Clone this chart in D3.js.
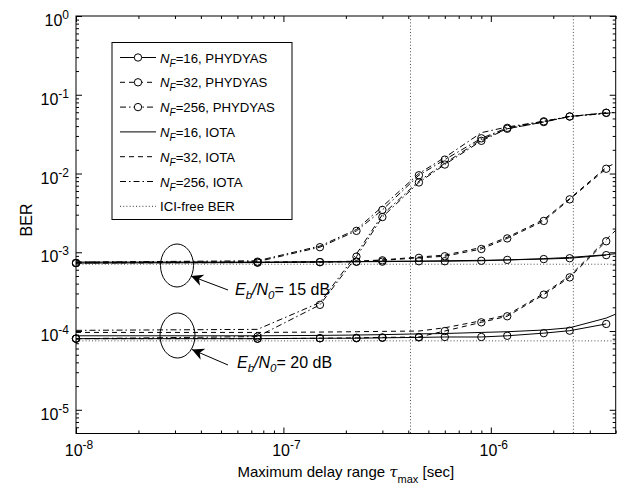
<!DOCTYPE html>
<html><head><meta charset="utf-8">
<script src="https://cdn.jsdelivr.net/npm/d3@7"></script>
<style>body{margin:0;background:#fff}svg{display:block;font-family:Arial,"Liberation Sans",sans-serif}</style>
</head><body><div id="chart"></div>
<script>
// delay values (sec)
const tau=[1e-8,7.5e-8,1.5e-7,2.25e-7,3e-7,4.5e-7,6e-7,9e-7,1.2e-6,1.8e-6,2.4e-6,3.6e-6];
const tauIota=[1e-8,7.5e-8,1.5e-7,2.25e-7,3e-7,4.5e-7,6e-7,9e-7,1.2e-6,1.8e-6,2.4e-6,3.6e-6,4e-6];
// Eb/N0 = 15 dB
const phy16_15=[7.3e-4,7.4e-4,7.5e-4,7.6e-4,7.6e-4,7.7e-4,7.7e-4,7.8e-4,8.0e-4,8.2e-4,8.4e-4,9.2e-4];
const phy32_15=[7.3e-4,7.4e-4,7.5e-4,7.6e-4,7.9e-4,8.5e-4,8.9e-4,1.1e-3,1.5e-3,2.5e-3,4.7e-3,1.15e-2];
const phy256_15=[7.3e-4,7.6e-4,1.16e-3,1.87e-3,3.45e-3,9.5e-3,1.5e-2,2.8e-2,3.8e-2,4.6e-2,5.3e-2,5.9e-2];
const iota16_15=[7.5e-4,7.5e-4,7.6e-4,7.6e-4,7.7e-4,7.7e-4,7.8e-4,7.9e-4,8.0e-4,8.3e-4,8.6e-4,9.3e-4,9.6e-4];
const iota32_15=[7.5e-4,7.5e-4,7.6e-4,7.7e-4,8.0e-4,8.7e-4,9.2e-4,1.15e-3,1.55e-3,2.6e-3,4.8e-3,1.2e-2,1.35e-2];
const iota256_15=[7.5e-4,7.8e-4,1.2e-3,1.95e-3,3.8e-3,1.0e-2,1.6e-2,3.3e-2,3.9e-2,4.6e-2,5.3e-2,5.8e-2,6.0e-2];
// Eb/N0 = 20 dB
const phy16_20=[8.0e-5,8.0e-5,8.1e-5,8.1e-5,8.2e-5,8.3e-5,8.4e-5,8.4e-5,8.7e-5,9.4e-5,1.01e-4,1.23e-4];
const phy32_20=[8.0e-5,8.0e-5,8.1e-5,8.2e-5,8.3e-5,8.4e-5,1.0e-4,1.29e-4,1.54e-4,2.9e-4,4.8e-4,1.38e-3];
const phy256_20=[8.0e-5,8.5e-5,2.15e-4,8.8e-4,2.8e-3,7.7e-3,1.3e-2,2.6e-2,3.7e-2,4.5e-2,5.3e-2,5.9e-2];
const iota16_20=[8.7e-5,8.7e-5,8.8e-5,8.9e-5,9.0e-5,9.2e-5,9.3e-5,9.6e-5,9.8e-5,1.03e-4,1.1e-4,1.46e-4,1.64e-4];
const iota32_20=[9.6e-5,9.6e-5,9.7e-5,9.8e-5,9.9e-5,1.0e-4,1.1e-4,1.35e-4,1.6e-4,3.0e-4,5.0e-4,1.45e-3,1.9e-3];
const iota256_20=[1.02e-4,1.05e-4,2.3e-4,9.5e-4,3.0e-3,8.0e-3,1.35e-2,2.7e-2,3.7e-2,4.5e-2,5.3e-2,5.8e-2,6.0e-2];
// ICI-free BER levels and vertical reference delays
const iciFree=[7.05e-4,7.5e-5];
const vLines=[4.1e-7,2.5e-6];
const legendNF=['16','32','256','16','32','256'];
const legendPulse=['PHYDYAS','PHYDYAS','PHYDYAS','IOTA','IOTA','IOTA'];
const snrLabels=['15','20'];

const W=626,H=495,L=76,T=16,R=615.7,B=433.5;
const DASH={solid:null,dash:'5,4',dashdot:'6,3,1.5,3',dot:'1,2.2'};
const x=d3.scaleLog().domain([1e-8,4e-6]).range([L,R]);
const y=d3.scaleLog().domain([5e-6,1]).range([B,T]);
const svg=d3.select('#chart').append('svg').attr('width',W).attr('height',H);
svg.append('defs').append('clipPath').attr('id','clip').append('rect').attr('x',L).attr('y',T).attr('width',R-L).attr('height',B-T);
svg.append('rect').attr('width',W).attr('height',H).attr('fill','#fff');

// ticks
const minorX=[],minorY=[];
for(let e=-8;e<=-6;e++)for(let k=2;k<=9;k++){const v=k*Math.pow(10,e);if(v<=4e-6)minorX.push(v)}
for(let e=-6;e<=-1;e++)for(let k=1;k<=9;k++){const v=k*Math.pow(10,e);if(v>=5e-6&&k>1)minorY.push(v)}
const majX=[1e-8,1e-7,1e-6],majY=[1e-5,1e-4,1e-3,1e-2,1e-1,1];
function ax(gen,scale,tv,size,tr){
  const g=svg.append('g').attr('transform',tr).call(gen(scale).tickValues(tv).tickSize(-size).tickSizeOuter(0).tickFormat(''));
  g.select('.domain').remove();g.selectAll('line').attr('stroke','#000');return g;
}
[[d3.axisBottom,`translate(0,${B})`],[d3.axisTop,`translate(0,${T})`]].forEach(([gen,tr])=>{ax(gen,x,minorX,3,tr);ax(gen,x,majX,6,tr)});
[[d3.axisLeft,`translate(${L},0)`],[d3.axisRight,`translate(${R},0)`]].forEach(([gen,tr])=>{ax(gen,y,minorY,3,tr);ax(gen,y,majY,6,tr)});
svg.append('rect').attr('x',L).attr('y',T).attr('width',R-L).attr('height',B-T).attr('fill','none').attr('stroke','#000');

function pow10(t,d){t.append('tspan').text('10');t.append('tspan').attr('font-size',12).attr('dy',-7).text(Math.round(Math.log10(d)))}
majX.forEach(d=>{const t=svg.append('text').attr('x',x(d)+3).attr('y',B+22).attr('text-anchor','middle').attr('font-size',16);pow10(t,d)});
majY.forEach(d=>{const t=svg.append('text').attr('x',L-7).attr('y',y(d)+10).attr('text-anchor','end').attr('font-size',16);pow10(t,d)});

svg.append('text').attr('transform',`translate(32,220) rotate(-90)`).attr('text-anchor','middle').attr('font-size',16).text('BER');
const xl=svg.append('text').attr('x',(L+R)/2).attr('y',477).attr('text-anchor','middle').attr('font-size',15);
xl.append('tspan').text('Maximum delay range ');
xl.append('tspan').attr('font-family','"DejaVu Serif",serif').attr('font-style','italic').text('τ');
xl.append('tspan').attr('font-size',11).attr('dy',6).text('max');
xl.append('tspan').attr('dy',-6).text(' [sec]');

// reference lines
const plot=svg.append('g').attr('clip-path','url(#clip)');
vLines.forEach(v=>plot.append('line').attr('x1',x(v)).attr('x2',x(v)).attr('y1',T).attr('y2',B).attr('stroke','#222').attr('stroke-width',0.8).attr('stroke-dasharray',DASH.dot));
iciFree.forEach(v=>plot.append('line').attr('x1',L).attr('x2',R).attr('y1',y(v)).attr('y2',y(v)).attr('stroke','#222').attr('stroke-width',0.8).attr('stroke-dasharray',DASH.dot));

const series=[
  {v:phy16_15,t:tau,d:'solid',m:true},{v:phy32_15,t:tau,d:'dash',m:true},{v:phy256_15,t:tau,d:'dashdot',m:true},
  {v:iota16_15,t:tauIota,d:'solid'},{v:iota32_15,t:tauIota,d:'dash'},{v:iota256_15,t:tauIota,d:'dashdot'},
  {v:phy16_20,t:tau,d:'solid',m:true},{v:phy32_20,t:tau,d:'dash',m:true},{v:phy256_20,t:tau,d:'dashdot',m:true},
  {v:iota16_20,t:tauIota,d:'solid'},{v:iota32_20,t:tauIota,d:'dash'},{v:iota256_20,t:tauIota,d:'dashdot'}
];
const line=d3.line().x(d=>x(d[0])).y(d=>y(d[1]));
series.forEach(s=>{
  const pts=s.t.map((t,i)=>[t,s.v[i]]);
  plot.append('path').datum(pts).attr('d',line).attr('fill','none').attr('stroke','#000').attr('stroke-width',1).attr('stroke-dasharray',DASH[s.d]);
  if(s.m)svg.selectAll(null).data(pts).enter().append('circle').attr('cx',d=>x(d[0])).attr('cy',d=>y(d[1])).attr('r',3.7).attr('fill','none').attr('stroke','#000').attr('stroke-width',1);
});

// legend
const lg=svg.append('g');
lg.append('rect').attr('x',112).attr('y',42.5).attr('width',180).attr('height',177).attr('fill','#fff').attr('stroke','#000');
const legItems=series.slice(0,6).map((s,i)=>({d:s.d,m:s.m,nf:legendNF[i],p:legendPulse[i]})).concat([{d:'dot',ici:true}]);
legItems.forEach((it,i)=>{
  const yy=57.5+i*24.8;
  lg.append('line').attr('x1',120).attr('x2',156).attr('y1',yy).attr('y2',yy).attr('stroke','#000').attr('stroke-width',it.ici?0.8:1).attr('stroke-dasharray',DASH[it.d]);
  if(it.m)lg.append('circle').attr('cx',138).attr('cy',yy).attr('r',3.7).attr('fill','#fff').attr('stroke','#000');
  const t=lg.append('text').attr('x',160).attr('y',yy+5).attr('font-size',13.2);
  if(it.ici){t.text('ICI-free BER');return}
  t.append('tspan').attr('font-style','italic').text('N');
  t.append('tspan').attr('font-style','italic').attr('font-size',10).attr('dy',4).text('F');
  t.append('tspan').attr('dy',-4).text(`=${it.nf}, ${it.p}`);
});

// annotations
const defs=svg.select('defs');
defs.append('marker').attr('id','arr').attr('viewBox','0 0 10 10').attr('refX',10).attr('refY',5).attr('markerWidth',12).attr('markerHeight',12).attr('markerUnits','userSpaceOnUse').attr('orient','auto')
  .append('path').attr('d','M0,0 L10,5 L0,10 L3,5 Z').attr('fill','#000');
const ann=[{cx:177,cy:265.5,rx:16.5,ry:21.5,tx:228,ty:290,hx:191,hy:276,lx:235,ly:295},
           {cx:177.5,cy:335.5,rx:17.5,ry:22.5,tx:228,ty:365,hx:192,hy:349.5,lx:237,ly:367.5}];
ann.forEach((a,i)=>{
  svg.append('ellipse').attr('cx',a.cx).attr('cy',a.cy).attr('rx',a.rx).attr('ry',a.ry).attr('fill','none').attr('stroke','#000');
  svg.append('line').attr('x1',a.tx).attr('y1',a.ty).attr('x2',a.hx).attr('y2',a.hy).attr('stroke','#000').attr('marker-end','url(#arr)');
  const t=svg.append('text').attr('x',a.lx).attr('y',a.ly).attr('font-size',16);
  t.append('tspan').attr('font-style','italic').text('E');
  t.append('tspan').attr('font-style','italic').attr('font-size',11.5).attr('dy',4).text('b');
  t.append('tspan').attr('font-style','italic').attr('dy',-4).text('/N');
  t.append('tspan').attr('font-style','italic').attr('font-size',11.5).attr('dy',4).text('0');
  t.append('tspan').attr('dy',-4).text(`= ${snrLabels[i]} dB`);
});
</script></body></html>
